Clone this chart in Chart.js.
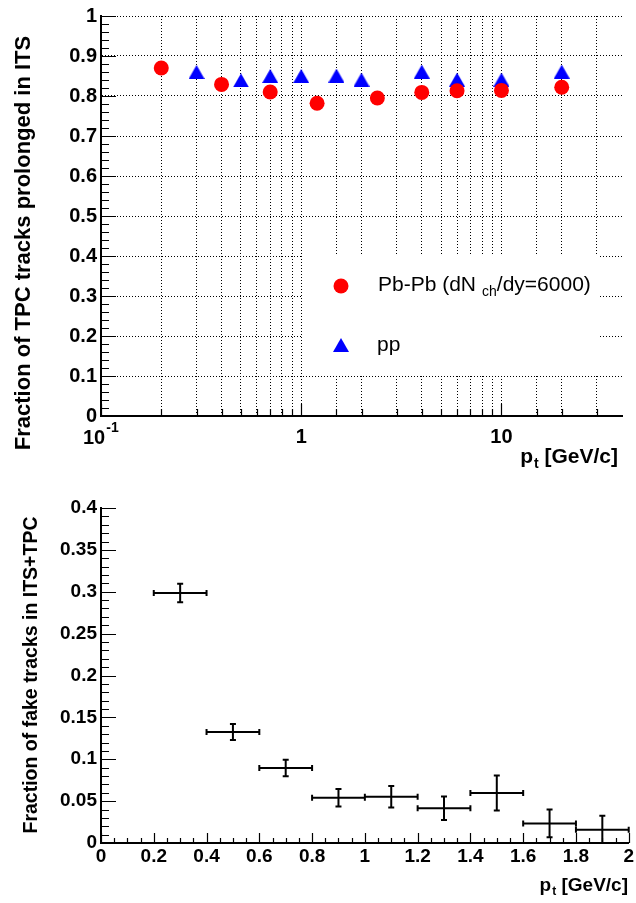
<!DOCTYPE html>
<html lang="en">
<head>
<meta charset="UTF-8">
<title>ITS-TPC track matching</title>
<script src="https://cdn.jsdelivr.net/npm/chart.js@4"></script>
<style>
  body { margin: 0; background: #fff; }
  canvas { position: absolute; left: 0; }
  #topChart { top: 0; }
  #bottomChart { top: 470px; }
</style>
</head>
<body>
<canvas id="topChart" width="636" height="470"></canvas>
<canvas id="bottomChart" width="636" height="433"></canvas>
<script>
// --- top panel: fraction of TPC tracks prolonged in ITS
const ptPbPb = [0.2, 0.4, 0.7, 1.2, 2.4, 4, 6, 10, 20];
const fracPbPb = [0.870, 0.829, 0.810, 0.782, 0.795, 0.809, 0.813, 0.814, 0.822];
const ptPP = [0.3, 0.5, 0.7, 1.0, 1.5, 2.0, 4, 6, 10, 20];
const fracPP = [0.860, 0.839, 0.850, 0.850, 0.851, 0.841, 0.861, 0.841, 0.841, 0.861];
const topXLabels = [1, 10];          // 10^-1 is drawn separately (superscript)

// --- bottom panel: fraction of fake tracks in ITS+TPC
const ptBin = [0.3, 0.5, 0.7, 0.9, 1.1, 1.3, 1.5, 1.7, 1.9];
const ptHalfWidth = [0.1, 0.1, 0.1, 0.1, 0.1, 0.1, 0.1, 0.1, 0.1];
const fakeFrac = [0.2985, 0.1325, 0.0896, 0.0541, 0.0553, 0.0414, 0.0597, 0.0234, 0.0159];
const fakeErr = [0.0110, 0.0095, 0.0098, 0.0104, 0.0128, 0.0140, 0.0209, 0.0165, 0.0167];

const FONT = '"Liberation Sans", Arial, Helvetica, sans-serif';
Chart.defaults.font.family = FONT;
Chart.defaults.color = '#000';

function fmt(v) { return String(+v.toFixed(3)); }

// triangle marker centred on its bounding box (like ROOT marker 22)
function triangleMarker(color, w, h) {
  const c = document.createElement('canvas');
  c.width = w; c.height = h;
  const g = c.getContext('2d');
  g.fillStyle = color;
  g.beginPath();
  g.moveTo(w / 2, 0); g.lineTo(w, h); g.lineTo(0, h);
  g.closePath(); g.fill();
  return c;
}
const blueTriangle = triangleMarker('#0000ff', 16, 14);

// text made of pieces (for sub/superscripts)
function drawPieces(ctx, pieces, x, y, align) {
  let total = 0;
  pieces.forEach(p => {
    ctx.font = p.font;
    p.w = ctx.measureText(p.t).width;
    total += p.w + (p.dx || 0);
  });
  let cx = align === 'right' ? x - total : x;
  ctx.textAlign = 'left';
  ctx.textBaseline = 'alphabetic';
  pieces.forEach(p => {
    ctx.font = p.font;
    cx += p.dx || 0;
    ctx.fillText(p.t, cx, y + (p.dy || 0));
    cx += p.w;
  });
}

// ROOT style ticks drawn inside the frame
function inwardTicks(ctx, chart, opts) {
  const {x, y} = chart.scales;
  const area = chart.chartArea;
  ctx.save();
  ctx.strokeStyle = '#000';
  ctx.lineWidth = 1.2;
  ctx.beginPath();
  for (let i = 0; i <= opts.yN; i++) {
    const v = opts.yMin + i * opts.yStep;
    const py = Math.round(y.getPixelForValue(v)) + 0.5;
    const len = i % opts.yMajorEvery === 0 ? opts.yMajLen : opts.yMinLen;
    ctx.moveTo(area.left, py); ctx.lineTo(area.left + len, py);
  }
  opts.xTicks.forEach(t => {
    const px = Math.round(x.getPixelForValue(t.v)) + 0.5;
    const len = t.major ? opts.xMajLen : opts.xMinLen;
    ctx.moveTo(px, area.bottom); ctx.lineTo(px, area.bottom - len);
  });
  ctx.stroke();
  ctx.restore();
}

const topDecor = {
  id: 'topDecor',
  afterDraw(chart) {
    const ctx = chart.ctx;
    const xs = chart.scales.x;
    const xTicks = xs.ticks
      .filter(t => t.value < 39.99)
      .map(t => ({v: t.value, major: Math.abs(Math.log10(t.value) - Math.round(Math.log10(t.value))) < 1e-6}));
    inwardTicks(ctx, chart, {
      yMin: 0, yStep: 0.02, yN: 50, yMajorEvery: 5, yMajLen: 15, yMinLen: 8,
      xTicks: xTicks, xMajLen: 12, xMinLen: 7
    });

    ctx.save();
    ctx.fillStyle = '#000';
    // 10^-1 label
    const p01 = xs.getPixelForValue(0.1);
    drawPieces(ctx, [
      {t: '10', font: 'bold 20px ' + FONT},
      {t: '-1', font: 'bold 14px ' + FONT, dy: -12, dx: 1}
    ], p01 - 18, 444, 'left');

    // axis titles
    drawPieces(ctx, [
      {t: 'p', font: 'bold 21px ' + FONT},
      {t: 't', font: 'bold 14px ' + FONT, dy: 5, dx: 1},
      {t: ' [GeV/c]', font: 'bold 21px ' + FONT}
    ], 618, 463, 'right');

    ctx.translate(29.5, 243);
    ctx.rotate(-Math.PI / 2);
    ctx.font = 'bold 22px ' + FONT;
    ctx.textAlign = 'center';
    ctx.textBaseline = 'alphabetic';
    ctx.fillText('Fraction of TPC tracks prolonged in ITS', 0, 0);
    ctx.restore();
  },
  afterDatasetsDraw(chart) {
    // legend box
    const ctx = chart.ctx;
    ctx.save();
    ctx.fillStyle = '#fff';
    ctx.fillRect(302, 256, 298, 119);
    ctx.fillStyle = '#ff0000';
    ctx.beginPath(); ctx.arc(341, 286, 7.5, 0, Math.PI * 2); ctx.fill();
    ctx.drawImage(blueTriangle, 341 - 8, 345 - 7);
    ctx.fillStyle = '#000';
    drawPieces(ctx, [
      {t: 'Pb-Pb (dN', font: '21px ' + FONT},
      {t: 'ch', font: '14px ' + FONT, dy: 5, dx: 6},
      {t: '/dy=6000)', font: '21px ' + FONT}
    ], 378, 291, 'left');
    drawPieces(ctx, [{t: 'pp', font: '21px ' + FONT}], 377, 351, 'left');
    ctx.restore();
  }
};

new Chart(document.getElementById('topChart'), {
  type: 'scatter',
  data: {
    datasets: [
      {
        label: 'Pb-Pb (dNch/dy=6000)',
        data: ptPbPb.map((x, i) => ({x: x, y: fracPbPb[i]})),
        pointStyle: 'circle',
        pointRadius: 7.5,
        pointHoverRadius: 7.5,
        borderWidth: 0,
        backgroundColor: '#ff0000'
      },
      {
        label: 'pp',
        data: ptPP.map((x, i) => ({x: x, y: fracPP[i]})),
        pointStyle: blueTriangle,
        pointRadius: 8,
        pointHoverRadius: 8,
        borderWidth: 0,
        backgroundColor: '#0000ff'
      }
    ]
  },
  options: {
    responsive: false,
    animation: false,
    events: [],
    layout: {padding: {left: 0, top: 12, right: 14, bottom: 0}},
    plugins: {legend: {display: false}, tooltip: {enabled: false}},
    scales: {
      x: {
        type: 'logarithmic',
        min: 0.1,
        max: 40,
        afterFit(s) { s.height = 54; },
        grid: {
          color: c => (c.tick && c.tick.value > 39.99) ? 'rgba(0,0,0,0)' : '#000',
          lineWidth: 1,
          drawTicks: false
        },
        border: {display: true, color: '#000', width: 2, dash: [1, 2]},
        ticks: {
          autoSkip: false,
          maxRotation: 0,
          padding: 9,
          font: {size: 20, weight: 'bold'},
          callback: v => topXLabels.some(l => Math.abs(l - v) < 1e-9) ? fmt(v) : ''
        }
      },
      y: {
        min: 0,
        max: 1,
        afterFit(s) { s.width = 101; },
        grid: {color: '#000', lineWidth: 1, drawTicks: false},
        border: {display: true, color: '#000', width: 2, dash: [1, 2]},
        ticks: {
          stepSize: 0.1,
          padding: 4,
          font: {size: 20, weight: 'bold'},
          callback: v => fmt(v)
        }
      }
    }
  },
  plugins: [topDecor]
});

const bottomDecor = {
  id: 'bottomDecor',
  afterDatasetsDraw(chart) {
    const ctx = chart.ctx;
    const {x, y} = chart.scales;
    const pts = chart.getDatasetMeta(0).data;
    ctx.save();
    ctx.strokeStyle = '#000';
    ctx.lineWidth = 2;
    ctx.beginPath();
    pts.forEach((el, i) => {
      const xl = x.getPixelForValue(ptBin[i] - ptHalfWidth[i]);
      const xr = x.getPixelForValue(ptBin[i] + ptHalfWidth[i]);
      const yt = y.getPixelForValue(fakeFrac[i] + fakeErr[i]);
      const yb = y.getPixelForValue(Math.max(0, fakeFrac[i] - fakeErr[i]));
      ctx.moveTo(xl, el.y); ctx.lineTo(xr, el.y);
      ctx.moveTo(xl, el.y - 3); ctx.lineTo(xl, el.y + 3);
      ctx.moveTo(xr, el.y - 3); ctx.lineTo(xr, el.y + 3);
      ctx.moveTo(el.x, yt); ctx.lineTo(el.x, yb);
      ctx.moveTo(el.x - 3, yt); ctx.lineTo(el.x + 3, yt);
      ctx.moveTo(el.x - 3, yb); ctx.lineTo(el.x + 3, yb);
    });
    ctx.stroke();
    ctx.restore();
  },
  afterDraw(chart) {
    const ctx = chart.ctx;
    const xTicks = [];
    for (let i = 0; i <= 40; i++) xTicks.push({v: i * 0.05, major: i % 4 === 0});
    inwardTicks(ctx, chart, {
      yMin: 0, yStep: 0.01, yN: 40, yMajorEvery: 5, yMajLen: 15, yMinLen: 8,
      xTicks: xTicks, xMajLen: 10, xMinLen: 5
    });
    ctx.save();
    ctx.fillStyle = '#000';
    drawPieces(ctx, [
      {t: 'p', font: 'bold 19px ' + FONT},
      {t: 't', font: 'bold 12px ' + FONT, dy: 4, dx: 1},
      {t: ' [GeV/c]', font: 'bold 19px ' + FONT}
    ], 628, 421, 'right');
    ctx.translate(37, 205);
    ctx.rotate(-Math.PI / 2);
    ctx.font = 'bold 19.5px ' + FONT;
    ctx.textAlign = 'center';
    ctx.textBaseline = 'alphabetic';
    ctx.fillText('Fraction of fake tracks in ITS+TPC', 0, 0);
    ctx.restore();
  }
};

new Chart(document.getElementById('bottomChart'), {
  type: 'scatter',
  data: {
    datasets: [{
      label: 'fake tracks',
      data: ptBin.map((x, i) => ({x: x, y: fakeFrac[i]})),
      pointRadius: 0,
      pointHoverRadius: 0
    }]
  },
  options: {
    responsive: false,
    animation: false,
    events: [],
    layout: {padding: {left: 0, top: 38, right: 6.5, bottom: 0}},
    plugins: {legend: {display: false}, tooltip: {enabled: false}},
    scales: {
      x: {
        type: 'linear',
        min: 0,
        max: 2,
        afterFit(s) { s.height = 60; },
        grid: {display: false, drawTicks: false},
        border: {display: true, color: '#000', width: 2},
        ticks: {
          stepSize: 0.2,
          padding: 2,
          maxRotation: 0,
          autoSkip: false,
          font: {size: 19, weight: 'bold'},
          callback: v => fmt(v)
        }
      },
      y: {
        min: 0,
        max: 0.4,
        afterFit(s) { s.width = 101; },
        grid: {display: false, drawTicks: false},
        border: {display: true, color: '#000', width: 2},
        ticks: {
          stepSize: 0.05,
          padding: 4,
          font: {size: 19, weight: 'bold'},
          callback: v => fmt(v)
        }
      }
    }
  },
  plugins: [bottomDecor]
});
</script>
</body>
</html>
